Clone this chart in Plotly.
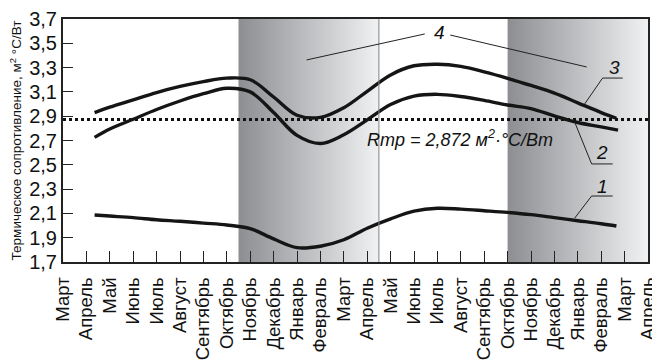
import plotly.graph_objects as go

# Month labels along the time axis (two seasons, March to April)
months = ["Март", "Апрель", "Май", "Июнь", "Июль", "Август", "Сентябрь", "Октябрь",
          "Ноябрь", "Декабрь", "Январь", "Февраль", "Март", "Апрель", "Май", "Июнь",
          "Июль", "Август", "Сентябрь", "Октябрь", "Ноябрь", "Декабрь", "Январь",
          "Февраль", "Март", "Апрель"]

# Measured thermal resistance, m²·°C/W (x = month index)
x1 = [1.35, 2, 3, 4, 5, 6, 7, 8, 9, 10, 11, 12, 13, 14, 15, 16, 17, 18, 19, 20, 21, 22, 23, 23.65]
r1 = [2.087, 2.078, 2.065, 2.048, 2.035, 2.02, 2.005, 1.975, 1.89, 1.818, 1.83, 1.883, 1.978,
      2.055, 2.118, 2.142, 2.135, 2.122, 2.108, 2.09, 2.065, 2.04, 2.015, 1.996]

x2 = [1.35, 2, 3, 4, 5, 6, 7, 8, 9, 10, 11, 12, 13, 14, 15, 16, 17, 18, 19, 20, 21, 22, 23, 23.72]
r2 = [2.726, 2.795, 2.875, 2.955, 3.025, 3.085, 3.13, 3.10, 2.93, 2.742, 2.675, 2.748, 2.87,
      2.996, 3.065, 3.08, 3.062, 3.03, 2.992, 2.963, 2.902, 2.848, 2.812, 2.786]

x3 = [1.35, 2, 3, 4, 5, 6, 7, 8, 9, 10, 11, 12, 13, 14, 15, 16, 17, 18, 19, 20, 21, 22, 23, 23.65]
r3 = [2.93, 2.975, 3.035, 3.095, 3.145, 3.185, 3.213, 3.20, 3.058, 2.908, 2.89, 2.97, 3.105,
      3.24, 3.315, 3.328, 3.31, 3.265, 3.212, 3.153, 3.09, 3.01, 2.93, 2.883]

# Required resistance
r_req = 2.872

# Heating seasons (month index bounds)
season_start = [7.5, 19.0]
season_end = [13.5, 25.0]

y_min, y_max = 1.7, 3.7
y_ticks = [1.7, 1.9, 2.1, 2.3, 2.5, 2.7, 2.9, 3.1, 3.3, 3.5, 3.7]
y_tick_text = [f"{v:.1f}".replace(".", ",") for v in y_ticks]

FONT = "Liberation Sans, Arial, sans-serif"

fig = go.Figure()

for a, b in zip(season_start, season_end):
    fig.add_trace(go.Scatter(
        x=[a, b, b, a, a], y=[y_min, y_min, y_max, y_max, y_min],
        fill="toself", mode="lines", line=dict(width=0),
        fillgradient=dict(type="horizontal",
                          colorscale=[[0, "rgb(140,142,146)"], [1, "rgb(240,241,242)"]]),
        hoverinfo="skip", showlegend=False))

fig.add_shape(type="line", x0=season_end[0], x1=season_end[0], y0=y_min, y1=y_max,
              line=dict(color="rgb(130,130,130)", width=1))

fig.add_trace(go.Scatter(x=[0, 25], y=[r_req, r_req], mode="lines",
                         line=dict(color="#111", width=3, dash="dot"),
                         showlegend=False, hoverinfo="skip"))

for xs, ys in ((x1, r1), (x2, r2), (x3, r3)):
    fig.add_trace(go.Scatter(x=xs, y=ys, mode="lines",
                             line=dict(color="#151515", width=3.4, shape="spline", smoothing=1.0),
                             showlegend=False))

# Curve labels with underlines and leader lines
thin = dict(color="#222", width=1)
labels = [
    # text, label x, label y, underline y, underline x0, x1, leader end x, y
    ("3", 23.58, 3.30, 3.214, 23.06, 23.92, 22.29, 3.00),
    ("2", 23.02, 2.60, 2.507, 22.59, 23.49, 21.87, 2.85),
    ("1", 23.06, 2.32, 2.243, 22.59, 23.49, 21.87, 2.062),
]
for txt, lx, ly, uy, ux0, ux1, ex, ey in labels:
    fig.add_annotation(x=lx, y=ly, text=f"<i>{txt}</i>", showarrow=False,
                       font=dict(family=FONT, size=19, color="#111"))
    fig.add_shape(type="line", x0=ux0, x1=ux1, y0=uy, y1=uy, line=thin)
    fig.add_shape(type="line", x0=ux0, x1=ex, y0=uy, y1=ey, line=thin)

fig.add_annotation(x=16.1, y=3.585, text="<i>4</i>", showarrow=False,
                   font=dict(family=FONT, size=19, color="#111"))
fig.add_shape(type="line", x0=15.46, x1=10.41, y0=3.577, y1=3.363, line=thin)
fig.add_shape(type="line", x0=16.55, x1=22.38, y0=3.568, y1=3.305, line=thin)

fig.add_annotation(x=12.89, y=2.715, xanchor="left",
                   text="<i>Rmp = 2,872 м<sup>2</sup>·°C/Вт</i>", showarrow=False,
                   font=dict(family=FONT, size=18, color="#111"))

fig.update_layout(
    width=652, height=361,
    margin=dict(l=63, r=4, t=19, b=99),
    paper_bgcolor="white", plot_bgcolor="white",
    font=dict(family=FONT, color="#111"),
    xaxis=dict(range=[0, 25], tickmode="array", tickvals=list(range(len(months))),
               ticktext=months, tickangle=-90, ticks="inside", ticklen=11,
               tickwidth=1.3, tickcolor="#222", showgrid=False, zeroline=False,
               showline=True, linecolor="#222", linewidth=2, mirror=True,
               tickfont=dict(size=18.5, family=FONT, color="#111"), ticklabelstandoff=6,
               ticklabeloverflow="allow", automargin=False),
    yaxis=dict(range=[y_min, y_max], tickmode="array", tickvals=y_ticks,
               ticktext=y_tick_text, ticks="inside", ticklen=10, tickwidth=1.3,
               tickcolor="#222", showgrid=False, zeroline=False,
               showline=True, linecolor="#222", linewidth=2, mirror=True,
               tickfont=dict(size=20, family=FONT, color="#111"), automargin=False,
               title=dict(text="Термическое сопротивление, м<sup>2</sup> °C/Вт",
                          font=dict(size=13.5, family=FONT, color="#111"), standoff=4)),
)

fig.write_html("out.html")
